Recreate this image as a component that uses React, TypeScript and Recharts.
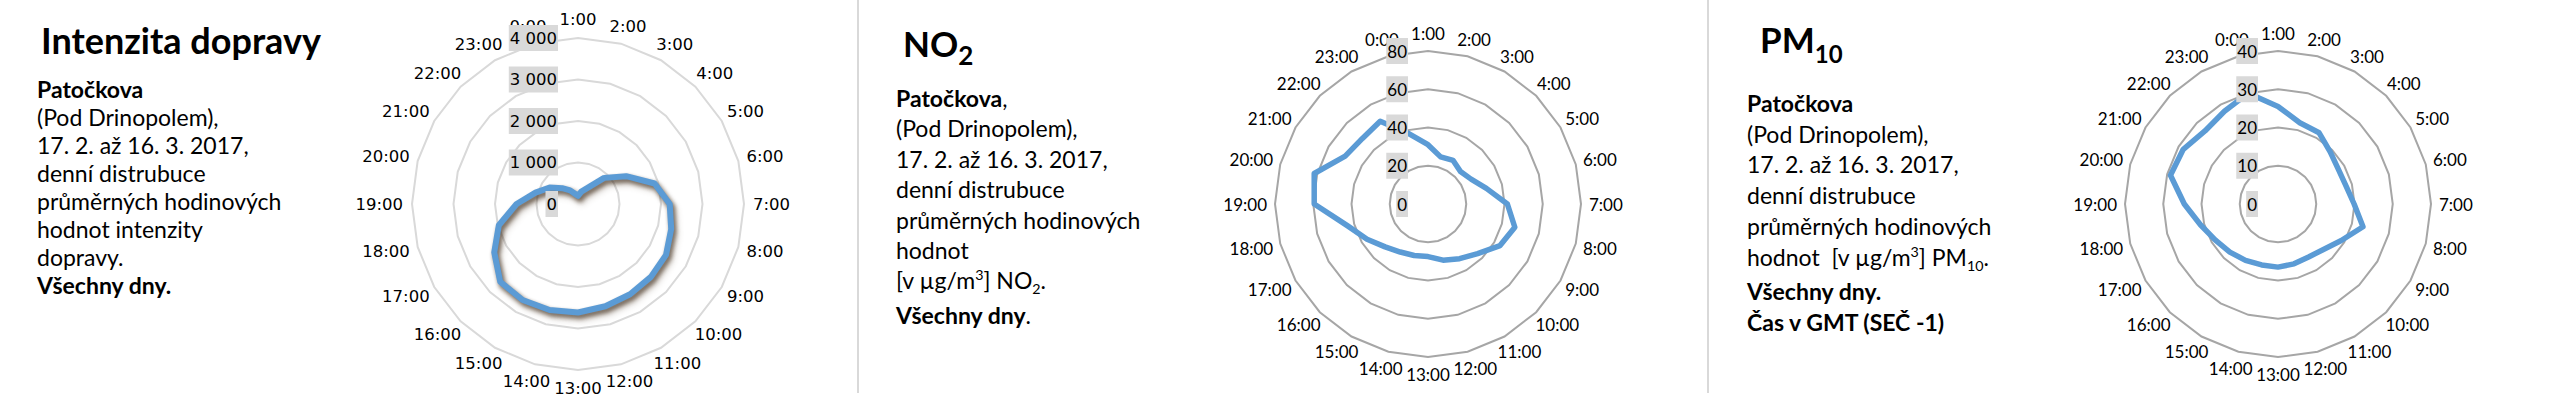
import React from "react";
import { RadarChart, Radar, PolarGrid, PolarAngleAxis, PolarRadiusAxis } from "recharts";

// hodiny: první kategorie (1:00) je nahoře, po směru hodinových ručiček
const HOURS = [
  "1:00", "2:00", "3:00", "4:00", "5:00", "6:00", "7:00", "8:00", "9:00", "10:00", "11:00", "12:00",
  "13:00", "14:00", "15:00", "16:00", "17:00", "18:00", "19:00", "20:00", "21:00", "22:00", "23:00", "0:00",
];

// intenzita dopravy (vozidla / h)
const TRAFFIC = [
  195, 310, 440, 890, 1340, 1910, 2210, 2325, 2450, 2485, 2510, 2550,
  2615, 2645, 2670, 2650, 2330, 1975, 1480, 1060, 790, 540, 380, 250,
];
const TRAFFIC_TICKS = [0, 1000, 2000, 3000, 4000];
const TRAFFIC_TICK_LABELS = ["0", "1 000", "2 000", "3 000", "4 000"];

// NO2 [µg/m3]
const NO2 = [
  31, 25.5, 26.3, 24, 26, 31.6, 41.5, 47, 43.5, 36.7, 33, 30.4,
  27.5, 27.9, 29, 31.7, 36.8, 43.7, 59.5, 61.6, 50, 48.5, 50, 38,
];
const NO2_TICKS = [0, 20, 40, 60, 80];

// PM10 [µg/m3]
const PM10 = [
  25.5, 22, 21.5, 19.3, 18.2, 18.4, 19.9, 23, 19.1, 16.8, 16, 16.2,
  16.5, 16.5, 17, 17.8, 18.9, 21, 24.5, 29.1, 28.6, 27, 28, 30,
];
const PM10_TICKS = [0, 10, 20, 30, 40];

const BLUE = "#5b9bd5";
const CHART_W = 520;
const CHART_H = 394;
const CY = 204;
const RAD = Math.PI / 180;

const textWidth = (s: string, size: number, dejavu: boolean) => {
  let w = 0;
  for (const ch of s) {
    if (ch === ":") w += dejavu ? 0.337 : 0.25;
    else if (ch === " ") w += dejavu ? 0.318 : 0.2;
    else w += dejavu ? 0.636 : 0.58;
  }
  return w * size;
};

type PanelProps = {
  values: number[];
  ticks: number[];
  tickLabels?: string[];
  left: number;
  outer: number;
  gridColor: string;
  font: string;
  fontSize: number;
  dejavu: boolean;
  lineWidth: number;
  gap: number;
  shadow?: boolean;
};

const RadarPanel = ({ values, ticks, tickLabels, left, outer, gridColor, font, fontSize, dejavu, lineWidth, gap, shadow }: PanelProps) => {
  const data = HOURS.map((h, i) => ({ hour: h, value: values[i] }));
  const cx = CHART_W / 2;

  const angleTick = (props: any) => {
    const { payload } = props;
    const label = String(payload.value);
    const a = -payload.coordinate * RAD;
    const ux = Math.cos(a);
    const uy = Math.sin(a);
    const w = textWidth(label, fontSize, dejavu);
    const h = fontSize * 1.1;
    const x = cx + (outer + gap) * ux + (ux * w) / 2;
    const y = CY + (outer + gap) * uy + (uy * h) / 2;
    return (
      <text x={x} y={y} textAnchor="middle" dominantBaseline="central" fontFamily={font} fontSize={fontSize} fill="#000">
        {label}
      </text>
    );
  };

  const radiusTick = (props: any) => {
    const { x, y, payload, index } = props;
    const label = tickLabels ? tickLabels[ticks.indexOf(payload.value)] ?? String(payload.value) : String(payload.value);
    const w = textWidth(label, fontSize, dejavu) + 2;
    const right = x - 20;
    return (
      <g key={`rt-${index}`}>
        <rect x={right - w} y={y - 13} width={w} height={26} fill="#d9d9d9" />
        <text x={right - 1} y={y} textAnchor="end" dominantBaseline="central" fontFamily={font} fontSize={fontSize} fill="#000">
          {label}
        </text>
      </g>
    );
  };

  return (
    <div style={{ position: "absolute", left, top: 0 }}>
      <RadarChart width={CHART_W} height={CHART_H} data={data} cx={cx} cy={CY} outerRadius={outer} margin={{ top: 0, right: 0, bottom: 0, left: 0 }}>
        <PolarGrid gridType="polygon" radialLines={false} stroke={gridColor} strokeWidth={2} />
        <PolarAngleAxis dataKey="hour" tick={angleTick} tickLine={false} axisLine={false} />
        <Radar
          dataKey="value"
          stroke={BLUE}
          strokeWidth={lineWidth}
          strokeLinejoin="round"
          fill="none"
          fillOpacity={0}
          className={shadow ? "traffic-line" : undefined}
          isAnimationActive={false}
        />
        <PolarRadiusAxis
          angle={90}
          type="number"
          domain={[ticks[0], ticks[ticks.length - 1]]}
          ticks={ticks as any}
          tickCount={ticks.length}
          axisLine={false}
          tick={radiusTick}
        />
      </RadarChart>
    </div>
  );
};

const bodyFont = "Lato, 'Open Sans', sans-serif";
const sup = { fontSize: "0.62em", position: "relative" as const, top: -9, verticalAlign: "baseline" };
const sub = { fontSize: "0.62em", position: "relative" as const, top: 5, verticalAlign: "baseline" };

export default function App() {
  return (
    <div style={{ position: "absolute", left: 0, top: 0, width: 2558, height: 394, background: "#fff", overflow: "hidden", color: "#000" }}>
      <style>{`.traffic-line { filter: drop-shadow(2px 3px 2px rgba(60,40,20,0.45)); }`}</style>

      {/* panel 1 */}
      <div style={{ position: "absolute", left: 41, top: 22, fontFamily: bodyFont, fontWeight: 700, fontSize: 36, lineHeight: "36px", whiteSpace: "nowrap" }}>
        Intenzita dopravy
      </div>
      <div style={{ position: "absolute", left: 37, top: 75, fontFamily: bodyFont, fontSize: 23, lineHeight: "28px", whiteSpace: "nowrap" }}>
        <div style={{ fontWeight: 700 }}>Patočkova</div>
        <div>(Pod Drinopolem),</div>
        <div>17. 2. až 16. 3. 2017,</div>
        <div>denní distrubuce</div>
        <div>průměrných hodinových</div>
        <div>hodnot intenzity</div>
        <div>dopravy.</div>
        <div style={{ fontWeight: 700 }}>Všechny dny.</div>
      </div>
      <RadarPanel
        values={TRAFFIC}
        ticks={TRAFFIC_TICKS}
        tickLabels={TRAFFIC_TICK_LABELS}
        left={578 - CHART_W / 2}
        outer={166}
        gridColor="#d9d9d9"
        font="'DejaVu Sans', sans-serif"
        fontSize={16.5}
        dejavu
        lineWidth={6}
        gap={9}
        shadow
      />

      <div style={{ position: "absolute", left: 857, top: 0, width: 2, height: 393, background: "#d9d9d9" }} />

      {/* panel 2 */}
      <div style={{ position: "absolute", left: 903, top: 26, fontFamily: bodyFont, fontWeight: 700, fontSize: 35, lineHeight: "35px", whiteSpace: "nowrap" }}>
        NO<span style={{ fontSize: 26, position: "relative", top: 8 }}>2</span>
      </div>
      <div style={{ position: "absolute", left: 896, top: 83, fontFamily: bodyFont, fontSize: 23, lineHeight: "30.4px", whiteSpace: "nowrap" }}>
        <div><b>Patočkova</b>,</div>
        <div>(Pod Drinopolem),</div>
        <div>17. 2. až 16. 3. 2017,</div>
        <div>denní distrubuce</div>
        <div>průměrných hodinových</div>
        <div>hodnot</div>
        <div>[v µg/m<span style={sup}>3</span>] NO<span style={sub}>2</span>.</div>
        <div><b>Všechny dny</b>.</div>
      </div>
      <RadarPanel
        values={NO2}
        ticks={NO2_TICKS}
        left={1428 - CHART_W / 2}
        outer={153}
        gridColor="#a6a6a6"
        font={bodyFont}
        fontSize={17}
        dejavu={false}
        lineWidth={5.5}
        gap={8}
      />

      <div style={{ position: "absolute", left: 1707, top: 0, width: 2, height: 393, background: "#d9d9d9" }} />

      {/* panel 3 */}
      <div style={{ position: "absolute", left: 1760, top: 22, fontFamily: bodyFont, fontWeight: 700, fontSize: 35, lineHeight: "35px", whiteSpace: "nowrap" }}>
        PM<span style={{ fontSize: 24, position: "relative", top: 10 }}>10</span>
      </div>
      <div style={{ position: "absolute", left: 1747, top: 88, fontFamily: bodyFont, fontSize: 23, lineHeight: "30.7px", whiteSpace: "pre" }}>
        <div style={{ fontWeight: 700 }}>Patočkova</div>
        <div>(Pod Drinopolem),</div>
        <div>17. 2. až 16. 3. 2017,</div>
        <div>denní distrubuce</div>
        <div>průměrných hodinových</div>
        <div>{"hodnot  [v µg/m"}<span style={sup}>3</span>{"] PM"}<span style={sub}>10</span>.</div>
        <div style={{ fontWeight: 700 }}>Všechny dny.</div>
        <div style={{ fontWeight: 700 }}>Čas v GMT (SEČ -1)</div>
      </div>
      <RadarPanel
        values={PM10}
        ticks={PM10_TICKS}
        left={2278 - CHART_W / 2}
        outer={153}
        gridColor="#a6a6a6"
        font={bodyFont}
        fontSize={17}
        dejavu={false}
        lineWidth={5.5}
        gap={8}
      />
    </div>
  );
}
